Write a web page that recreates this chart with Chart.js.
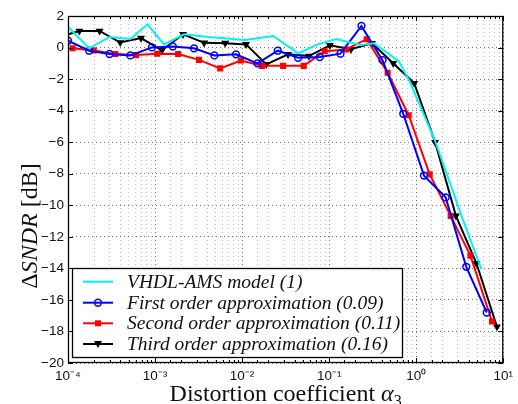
<!DOCTYPE html>
<html><head><meta charset="utf-8">
<script src="https://cdn.jsdelivr.net/npm/chart.js@4"></script>
<style>html,body{margin:0;padding:0;background:#fff;overflow:hidden}#wrap{width:518px;height:404px}</style>
</head><body><div id="wrap"><canvas id="c" width="518" height="404"></canvas></div>
<script>
// ---- data ----
const vhdlX = [1e-4, 1.75e-4, 3.0e-4, 5.2e-4, 8.2e-4, 1.27e-3, 2.15e-3, 4.1e-3, 0.0108, 0.0228, 0.044, 0.074, 0.12, 0.23, 0.328, 0.63, 0.85, 1.64, 3.47, 5.61];
const vhdlY = [1.32, -0.05, 0.67, 0.54, 1.47, 0.2, 0.84, 0.67, 0.48, 0.73, -0.37, 0.2, 0.54, 0.16, 0.27, -0.86, -2.2, -5.88, -10.97, -14.04];

const firstX = [1e-4, 1.75e-4, 3.0e-4, 5.2e-4, 9.2e-4, 1.6e-3, 2.8e-3, 4.8e-3, 8.5e-3, 0.015, 0.0257, 0.044, 0.078, 0.135, 0.235, 0.41, 0.71, 1.23, 2.18, 3.76, 6.46];
const firstY = [0.43, -0.2, -0.41, -0.5, 0.01, 0.07, -0.05, -0.5, -0.43, -1.0, -0.2, -0.65, -0.6, -0.39, 1.37, -0.8, -4.2, -8.12, -9.5, -13.9, -16.8];

const secondX = [1.13e-4, 1.98e-4, 3.5e-4, 6.05e-4, 1.06e-3, 1.84e-3, 3.2e-3, 5.6e-3, 9.7e-3, 0.0169, 0.0296, 0.051, 0.089, 0.156, 0.27, 0.47, 0.82, 1.43, 2.49, 4.2, 7.43];
const secondY = [-0.05, -0.18, -0.41, -0.48, -0.39, -0.41, -0.78, -1.32, -0.82, -1.16, -1.16, -1.16, -0.23, -0.12, 0.53, -1.6, -4.29, -8.04, -10.67, -13.19, -17.37];

const thirdX = [7.5e-5, 1.35e-4, 2.31e-4, 3.98e-4, 6.9e-4, 1.2e-3, 2.1e-3, 3.66e-3, 6.4e-3, 0.0111, 0.019, 0.0337, 0.0586, 0.102, 0.178, 0.311, 0.545, 0.95, 1.65, 2.86, 4.92, 8.47];
const thirdY = [0.63, 1.05, 1.05, 0.32, 0.6, -0.18, 0.84, 0.3, 0.28, 0.2, -1.07, -0.43, -0.54, 0.14, -0.11, 0.27, -1.0, -2.26, -6.0, -10.67, -13.68, -17.7];

const seriesNames = ['VHDL-AMS model (1)', 'First order approximation (0.09)', 'Second order approximation (0.11)', 'Third order approximation (0.16)'];

const xDecades = [-4, -3, -2, -1, 0, 1];
const xTickLabels = ['10\u207B\u2074', '10\u207B\u00B3', '10\u207B\u00B2', '10\u207B\u00B9', '10\u2070', '10\u00B9'];
const yTickValues = [2, 0, -2, -4, -6, -8, -10, -12, -14, -16, -18, -20];
const yTickLabels = ['2', '0', '\u22122', '\u22124', '\u22126', '\u22128', '\u221210', '\u221212', '\u221214', '\u221216', '\u221218', '\u221220'];

const pts = (xs, ys) => xs.map((x, i) => ({x: x, y: ys[i]}));

const styles = [
  {color: '#00f2f2', style: 'none'},
  {color: '#0000ff', style: 'circle'},
  {color: '#ff0000', style: 'rect'},
  {color: '#000000', style: 'tri'}
];

function marker(ctx, style, color, x, y) {
  ctx.save();
  ctx.setLineDash([]);
  ctx.fillStyle = color; ctx.strokeStyle = color;
  if (style === 'circle') {
    ctx.lineWidth = 1.5; ctx.beginPath(); ctx.arc(x, y, 3.4, 0, Math.PI * 2); ctx.stroke();
  } else if (style === 'rect') {
    ctx.fillRect(x - 3, y - 3, 6, 6);
  } else if (style === 'tri') {
    ctx.beginPath(); ctx.moveTo(x - 4, y - 3); ctx.lineTo(x + 4, y - 3); ctx.lineTo(x, y + 4); ctx.closePath(); ctx.fill();
  }
  ctx.restore();
}

const decor = {
  id: 'decor',
  afterDraw(chart) {
    const {ctx, chartArea: a, scales: {x, y}} = chart;
    ctx.save();
    ctx.setLineDash([]);
    ctx.strokeStyle = '#000';
    ctx.lineWidth = 1;
    ctx.beginPath();
    y.ticks.forEach(t => {
      const py = Math.round(y.getPixelForValue(t.value)) + 0.5;
      ctx.moveTo(a.left, py); ctx.lineTo(a.left + 5, py);
      ctx.moveTo(a.right, py); ctx.lineTo(a.right - 5, py);
    });
    x.ticks.forEach(t => {
      const px = Math.round(x.getPixelForValue(t.value)) + 0.5;
      const L = t.major ? 5 : 3;
      ctx.moveTo(px, a.bottom); ctx.lineTo(px, a.bottom - L);
      ctx.moveTo(px, a.top); ctx.lineTo(px, a.top + L);
    });
    ctx.stroke();
    ctx.lineWidth = 1.3;
    ctx.strokeRect(a.left + 0.5, a.top + 0.5, a.right - a.left - 1, a.bottom - a.top - 1);

    // legend
    const lx = 72.5, ly = 268.5, lw = 330, lh = 89;
    ctx.fillStyle = '#fff';
    ctx.fillRect(lx, ly, lw, lh);
    ctx.lineWidth = 1.3;
    ctx.strokeStyle = '#000';
    ctx.strokeRect(lx, ly, lw, lh);
    const rows = [281.7, 302.7, 323.3, 344];
    ctx.font = 'italic 19.5px "Liberation Serif"';
    ctx.textBaseline = 'middle';
    ctx.textAlign = 'left';
    chart.data.datasets.forEach((ds, i) => {
      const ry = rows[i];
      ctx.strokeStyle = ds.borderColor; ctx.lineWidth = 2;
      ctx.beginPath(); ctx.moveTo(83, ry); ctx.lineTo(113, ry); ctx.stroke();
      marker(ctx, styles[i].style, ds.borderColor, 98, ry);
      ctx.fillStyle = '#111';
      ctx.fillText(ds.label, 127, ry + 1);
    });

    // axis titles
    ctx.fillStyle = '#111';
    ctx.textBaseline = 'alphabetic';
    const fN = '24px "Liberation Serif"', fI = 'italic 24px "Liberation Serif"', fS = '16px "Liberation Serif"';
    const parts = [['Distortion coefficient ', fN, 0], ['\u03B1', fI, 0], ['3', fS, 5]];
    let tw = 0;
    parts.forEach(p => { ctx.font = p[1]; tw += ctx.measureText(p[0]).width; });
    let cx = (a.left + a.right) / 2 - tw / 2;
    parts.forEach(p => { ctx.font = p[1]; ctx.fillText(p[0], cx, 401 + p[2]); cx += ctx.measureText(p[0]).width; });
    ctx.save();
    ctx.translate(37, 226);
    ctx.rotate(-Math.PI / 2);
    const yparts = [['\u0394', fN], ['SNDR', fI], [' [dB]', fN]];
    tw = 0;
    yparts.forEach(p => { ctx.font = p[1]; tw += ctx.measureText(p[0]).width; });
    cx = -tw / 2;
    yparts.forEach(p => { ctx.font = p[1]; ctx.fillText(p[0], cx, 0); cx += ctx.measureText(p[0]).width; });
    ctx.restore();
    ctx.restore();
  }
};

const datasets = [
  {label: seriesNames[0], data: pts(vhdlX, vhdlY), borderColor: styles[0].color, backgroundColor: styles[0].color, borderWidth: 2, pointRadius: 0},
  {label: seriesNames[1], data: pts(firstX, firstY), borderColor: styles[1].color, backgroundColor: 'rgba(0,0,0,0)', borderWidth: 2, pointStyle: 'circle', pointRadius: 3.4, pointBorderWidth: 1.5, pointBorderColor: styles[1].color, pointBackgroundColor: 'rgba(0,0,0,0)'},
  {label: seriesNames[2], data: pts(secondX, secondY), borderColor: styles[2].color, backgroundColor: styles[2].color, borderWidth: 2, pointStyle: 'rect', pointRadius: 4.3, pointBorderWidth: 0, pointBackgroundColor: styles[2].color},
  {label: seriesNames[3], data: pts(thirdX, thirdY), borderColor: styles[3].color, backgroundColor: styles[3].color, borderWidth: 2, pointStyle: 'triangle', pointRotation: 180, pointRadius: 4.6, pointBorderWidth: 0, pointBackgroundColor: styles[3].color}
];

new Chart(document.getElementById('c'), {
  type: 'line',
  data: {datasets: datasets},
  options: {
    responsive: false,
    animation: false,
    devicePixelRatio: 1,
    events: [],
    layout: {padding: {top: 16, right: 11, left: 0, bottom: 0}},
    plugins: {legend: {display: false}, tooltip: {enabled: false}, title: {display: false}},
    elements: {line: {tension: 0, fill: false}},
    scales: {
      x: {
        type: 'logarithmic', min: 1e-4, max: 10,
        afterFit: s => { s.height = 41; },
        grid: {drawTicks: false, lineWidth: 1, color: c => (c.tick && c.tick.major) ? 'rgba(0,0,0,0.55)' : 'rgba(0,0,0,0.25)'},
        border: {display: false, dash: [1, 3]},
        ticks: {
          autoSkip: false, maxRotation: 0, minRotation: 0, padding: 5, color: '#111',
          font: {family: '"Liberation Sans"', size: 13.5},
          callback: v => { const l = Math.log10(v); const i = xDecades.indexOf(Math.round(l)); return (Math.abs(l - Math.round(l)) < 1e-6 && i >= 0) ? xTickLabels[i] : ''; }
        }
      },
      y: {
        type: 'linear', min: -20, max: 2,
        afterFit: s => { s.width = 68; },
        grid: {drawTicks: false, lineWidth: 1, color: 'rgba(0,0,0,0.55)'},
        border: {display: false, dash: [1, 3]},
        ticks: {
          stepSize: 2, padding: 4, color: '#111',
          font: {family: '"Liberation Sans"', size: 13.5},
          callback: v => { const i = yTickValues.indexOf(Math.round(v)); return i >= 0 ? yTickLabels[i] : ''; }
        }
      }
    }
  },
  plugins: [decor]
});
</script>
</body></html>
